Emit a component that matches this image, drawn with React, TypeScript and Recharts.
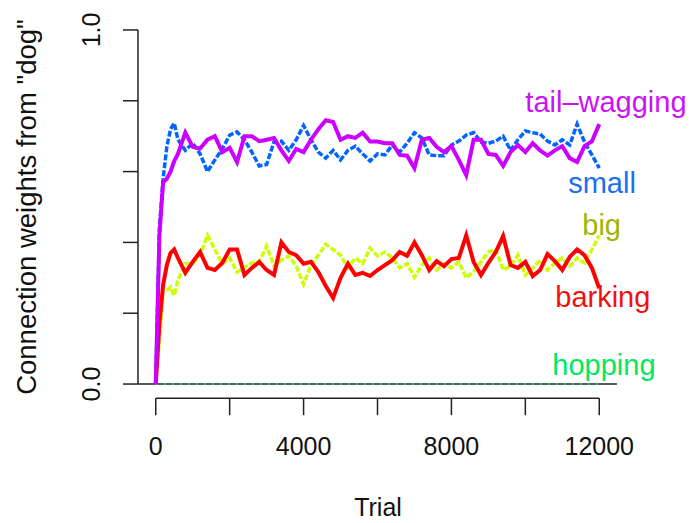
import React from 'react';
import { LineChart, Line, XAxis, YAxis, ReferenceLine, ReferenceDot } from 'recharts';

const FONT = "'Liberation Sans', Arial, Helvetica, sans-serif";

// trial numbers sampled along the x axis
const trials = [
  0, 100, 200, 300, 400, 500, 600, 800,
  1000, 1200, 1400, 1600, 1800,
  2000, 2200, 2400, 2600, 2800,
  3000, 3200, 3400, 3600, 3800,
  4000, 4200, 4400, 4600, 4800,
  5000, 5200, 5400, 5600, 5800,
  6000, 6200, 6400, 6600, 6800,
  7000, 7200, 7400, 7600, 7800,
  8000, 8200, 8400, 8600, 8800,
  9000, 9200, 9400, 9600, 9800,
  10000, 10200, 10400, 10600, 10800,
  11000, 11200, 11400, 11600, 11800,
  12000,
];

const tailWagging = [
  0, 0.42, 0.57, 0.58, 0.6, 0.63, 0.65, 0.71,
  0.67, 0.665, 0.69, 0.7, 0.655,
  0.667, 0.627, 0.7, 0.7, 0.686,
  0.69, 0.695, 0.66, 0.63, 0.664,
  0.655, 0.69, 0.72, 0.745, 0.74,
  0.69, 0.7, 0.695, 0.71, 0.685,
  0.685, 0.68, 0.68, 0.647, 0.645,
  0.61, 0.69, 0.695, 0.67, 0.655,
  0.672, 0.633, 0.59, 0.69, 0.69,
  0.65, 0.647, 0.616, 0.655, 0.675,
  0.655, 0.68, 0.66, 0.645, 0.66,
  0.672, 0.638, 0.627, 0.672, 0.685,
  0.734,
];

const small = [
  0, 0.44, 0.58, 0.67, 0.72, 0.737, 0.69, 0.66,
  0.68, 0.65, 0.6, 0.633, 0.664,
  0.703, 0.712, 0.69, 0.655, 0.616,
  0.62, 0.684, 0.686, 0.66, 0.69,
  0.73, 0.69, 0.655, 0.638, 0.66,
  0.633, 0.66, 0.672, 0.65, 0.63,
  0.65, 0.647, 0.675, 0.655, 0.68,
  0.71, 0.695, 0.647, 0.645, 0.645,
  0.675, 0.686, 0.703, 0.71, 0.684,
  0.68, 0.686, 0.7, 0.66, 0.69,
  0.715, 0.71, 0.706, 0.686, 0.675,
  0.69, 0.675, 0.734, 0.684, 0.647,
  0.61,
];

const barking = [
  0, 0.17, 0.28, 0.336, 0.37, 0.38, 0.356, 0.314,
  0.345, 0.373, 0.328, 0.322, 0.342,
  0.38, 0.38, 0.308, 0.328, 0.345,
  0.322, 0.308, 0.4, 0.373, 0.364,
  0.34, 0.345, 0.316, 0.277, 0.243,
  0.3, 0.34, 0.308, 0.314, 0.305,
  0.322, 0.336, 0.35, 0.373, 0.362,
  0.4, 0.364, 0.322, 0.347, 0.333,
  0.353, 0.356, 0.42, 0.345, 0.308,
  0.342, 0.373, 0.418, 0.336, 0.328,
  0.345, 0.305, 0.322, 0.367, 0.347,
  0.322, 0.359, 0.38, 0.364, 0.328,
  0.27,
];

const big = [
  0, 0.12, 0.26, 0.265, 0.274, 0.25, 0.294, 0.34,
  0.34, 0.364, 0.42, 0.38, 0.34,
  0.356, 0.316, 0.33, 0.342, 0.345,
  0.39, 0.333, 0.35, 0.362, 0.333,
  0.282, 0.336, 0.364, 0.395, 0.38,
  0.364, 0.328, 0.356, 0.34, 0.384,
  0.362, 0.373, 0.356, 0.328, 0.34,
  0.302, 0.336, 0.356, 0.322, 0.34,
  0.328, 0.345, 0.3, 0.316, 0.345,
  0.373, 0.38, 0.322, 0.333, 0.364,
  0.308, 0.328, 0.35, 0.322, 0.342,
  0.356, 0.333, 0.356, 0.342, 0.38,
  0.42,
];

// hopping never gets any weight
const hopping = trials.map(() => 0);

const xTicks = [0, 2000, 4000, 6000, 8000, 10000, 12000];
const xTickLabels = [0, 4000, 8000, 12000];
const yTicks = [0, 0.2, 0.4, 0.6, 0.8, 1];
const yTickLabels: Record<number, string> = { 0: '0.0', 1: '1.0' };

// series name tags, placed in data coordinates (left edge, baseline)
const tags = [
  { text: 'tail\u2013wagging', t: 10000, v: 0.768, color: '#cc11f5' },
  { text: 'small', t: 11160, v: 0.54, color: '#1a6ff0' },
  { text: 'big', t: 11540, v: 0.421, color: '#a2b300' },
  { text: 'barking', t: 10810, v: 0.2175, color: '#f01010' },
  { text: 'hopping', t: 10730, v: 0.0254, color: '#00e85e' },
];

const data = trials.map((t, i) => ({
  t,
  tail: tailWagging[i],
  small: small[i],
  barking: barking[i],
  big: big[i],
  hopping: hopping[i],
}));

const YTick = (props: any) => {
  const { x, y, payload } = props;
  const label = yTickLabels[payload.value];
  if (!label) return <g />;
  return (
    <text
      x={x}
      y={y}
      transform={`rotate(-90, ${x}, ${y})`}
      textAnchor="middle"
      fontSize={25}
      fontFamily={FONT}
      fill="#111"
    >
      {label}
    </text>
  );
};

export default function App() {
  return (
    <div style={{ position: 'absolute', left: 0, top: 0, width: 700, height: 523, background: '#fff' }}>
      <LineChart
        width={700}
        height={523}
        data={data}
        margin={{ top: 15.8, right: 83, bottom: 0, left: 0 }}
      >
        <XAxis
          dataKey="t"
          type="number"
          domain={[-480, 12480]}
          ticks={xTicks}
          interval={0}
          height={124.8}
          axisLine={false}
          tickSize={17}
          tickMargin={22}
          tickLine={{ stroke: '#222', strokeWidth: 1.5 }}
          tick={{ fontSize: 25, fontFamily: FONT, fill: '#111' }}
          tickFormatter={(v: number) => (xTickLabels.includes(v) ? String(v) : '')}
        />
        <YAxis
          type="number"
          domain={[-0.04, 1.04]}
          ticks={yTicks}
          interval={0}
          width={138}
          axisLine={false}
          tickSize={15}
          tickMargin={23}
          tickLine={{ stroke: '#222', strokeWidth: 1.5 }}
          tick={<YTick />}
        />

        {/* axis lines only span the tick range, like base R */}
        <ReferenceLine
          segment={[{ x: 0, y: -0.04 }, { x: 12000, y: -0.04 }]}
          stroke="#222"
          strokeWidth={1.5}
          ifOverflow="visible"
        />
        <ReferenceLine
          segment={[{ x: -480, y: 0 }, { x: -480, y: 1 }]}
          stroke="#222"
          strokeWidth={1.5}
          ifOverflow="visible"
        />
        <ReferenceLine y={0} stroke="#222" strokeWidth={1.5} />

        <Line dataKey="hopping" stroke="#00ff66" strokeWidth={1.5} strokeDasharray="2 6" dot={false} isAnimationActive={false} />
        <Line dataKey="big" stroke="#ccff00" strokeWidth={3.5} strokeDasharray="6 2" dot={false} isAnimationActive={false} />
        <Line dataKey="barking" stroke="#ff0000" strokeWidth={4} dot={false} isAnimationActive={false} />
        <Line dataKey="small" stroke="#0066ff" strokeWidth={3.5} strokeDasharray="6 2" dot={false} isAnimationActive={false} />
        <Line dataKey="tail" stroke="#cc00ff" strokeWidth={4} dot={false} isAnimationActive={false} />

        {tags.map((tag) => (
          <ReferenceDot
            key={tag.text}
            x={tag.t}
            y={tag.v}
            r={0}
            stroke="none"
            fill="none"
            ifOverflow="visible"
            label={{
              content: (p: any) => (
                <text
                  x={p.viewBox.x}
                  y={p.viewBox.y}
                  fontSize={29}
                  fontFamily={FONT}
                  fill={tag.color}
                >
                  {tag.text}
                </text>
              ),
            }}
          />
        ))}
      </LineChart>

      <svg
        width={700}
        height={523}
        style={{ position: 'absolute', left: 0, top: 0, pointerEvents: 'none' }}
      >
        <text
          x={36}
          y={207}
          transform="rotate(-90, 36, 207)"
          textAnchor="middle"
          fontSize={27.5}
          fontFamily={FONT}
          fill="#111"
        >
          Connection weights from "dog"
        </text>
        <text x={378} y={516} textAnchor="middle" fontSize={25} fontFamily={FONT} fill="#111">
          Trial
        </text>
      </svg>
    </div>
  );
}
